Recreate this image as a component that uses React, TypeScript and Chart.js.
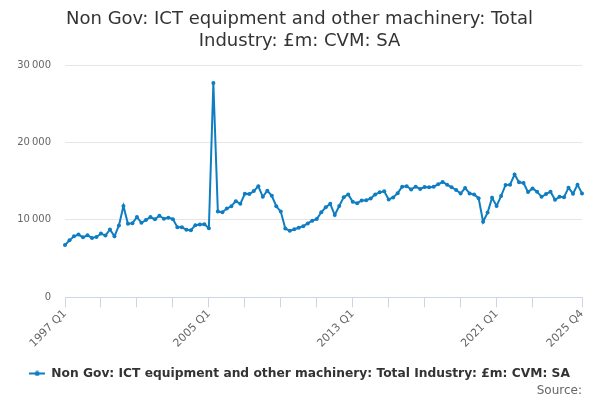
import React, { useEffect, useRef } from 'react';
import { Chart, registerables } from 'chart.js';

Chart.register(...registerables);

const FONT = '"DejaVu Sans", sans-serif';
const LINE_COLOR = '#0f7dc2';

const years = [
  1997, 1998, 1999, 2000, 2001, 2002, 2003, 2004, 2005, 2006, 2007, 2008, 2009, 2010, 2011,
  2012, 2013, 2014, 2015, 2016, 2017, 2018, 2019, 2020, 2021, 2022, 2023, 2024, 2025,
];
const quarters = ['Q1', 'Q2', 'Q3', 'Q4'];
const categories: string[] = years.flatMap((y) => quarters.map((q) => `${y} ${q}`));

const seriesName = 'Non Gov: ICT equipment and other machinery: Total Industry: £m: CVM: SA';
const values = [
  6760, 7360, 7880, 8100,
  7750, 8010, 7670, 7800,
  8230, 7970, 8760, 7880,
  9280, 11800, 9500, 9580,
  10370, 9630, 9980, 10370,
  10070, 10550, 10150, 10290,
  10100, 9060, 9060, 8720,
  8670, 9320, 9410, 9450,
  8930, 27670, 11070, 10980,
  11460, 11760, 12420, 12070,
  13370, 13330, 13730, 14340,
  12980, 13770, 13110, 11760,
  11070, 8890, 8590, 8800,
  8980, 9190, 9540, 9900,
  10110, 10980, 11630, 12070,
  10630, 11800, 12940, 13290,
  12330, 12160, 12510, 12550,
  12770, 13290, 13560, 13690,
  12640, 12900, 13450, 14290,
  14340, 13940, 14290, 13990,
  14250, 14200, 14290, 14600,
  14900, 14550, 14200, 13860,
  13420, 14120, 13420, 13290,
  12810, 9760, 10940, 12850,
  11810, 13070, 14510, 14550,
  15860, 14860, 14770, 13590,
  14070, 13640, 12980, 13330,
  13640, 12590, 12980, 12940,
  14160, 13380, 14550, 13420,
];

const xTickIndices = [0, 8, 16, 24, 32, 40, 48, 56, 64, 72, 80, 88, 96, 104, 115];
const xLabelIndices = [0, 32, 64, 96, 115];
const yTicks = [0, 10000, 20000, 30000];

function fmt(v: number): string {
  return String(Math.round(v)).replace(/\B(?=(\d{3})+(?!\d))/g, '\u2009');
}

function makeMarker(): HTMLCanvasElement {
  const c = document.createElement('canvas');
  c.width = 16;
  c.height = 6;
  const ctx = c.getContext('2d')!;
  ctx.strokeStyle = LINE_COLOR;
  ctx.lineWidth = 2;
  ctx.beginPath();
  ctx.moveTo(0, 3);
  ctx.lineTo(16, 3);
  ctx.stroke();
  ctx.fillStyle = LINE_COLOR;
  ctx.beginPath();
  ctx.arc(8, 3, 2.5, 0, Math.PI * 2);
  ctx.fill();
  return c;
}

export default function App() {
  const ref = useRef<HTMLCanvasElement | null>(null);

  useEffect(() => {
    if (!ref.current) return;
    const marker = makeMarker();
    const chart = new Chart(ref.current, {
      type: 'line',
      data: {
        labels: categories,
        datasets: [
          {
            label: seriesName,
            data: values,
            borderColor: LINE_COLOR,
            backgroundColor: LINE_COLOR,
            borderWidth: 2,
            pointRadius: 2,
            pointBorderWidth: 0,
            pointBackgroundColor: LINE_COLOR,
            tension: 0,
          },
        ],
      },
      options: {
        animation: false,
        responsive: true,
        maintainAspectRatio: false,
        layout: { padding: { left: 17, right: 18, top: 0, bottom: 0 } },
        plugins: {
          title: {
            display: true,
            text: ['Non Gov: ICT equipment and other machinery: Total', 'Industry: £m: CVM: SA'],
            color: '#333333',
            font: { family: FONT, size: 18, weight: 'normal', lineHeight: 1.25 },
            padding: { top: 8, bottom: 12 },
          },
          subtitle: {
            display: true,
            text: 'Source:',
            position: 'bottom',
            align: 'end',
            color: '#666666',
            font: { family: FONT, size: 12, weight: 'normal' },
            padding: { top: -6, bottom: 2 },
          },
          legend: {
            display: true,
            position: 'bottom',
            labels: {
              color: '#333333',
              font: { family: FONT, size: 12.25, weight: 'bold' },
              usePointStyle: true,
              pointStyleWidth: 16,
              boxHeight: 6,
              padding: 2,
              generateLabels: (c: any) => {
                const items = Chart.defaults.plugins.legend.labels.generateLabels(c);
                return items.map((it: any) => ({ ...it, pointStyle: marker }));
              },
            },
          },
          tooltip: { enabled: false },
        },
        scales: {
          x: {
            type: 'category',
            offset: false,
            grid: {
              display: true,
              drawOnChartArea: false,
              drawTicks: true,
              tickLength: 10,
              color: '#ccd6eb',
            },
            border: { display: true, color: '#ccd6eb', width: 1 },
            ticks: {
              autoSkip: false,
              maxRotation: 45,
              minRotation: 45,
              padding: 0,
              color: '#666666',
              font: { family: FONT, size: 11 },
              callback: (v: any) => (xLabelIndices.includes(Number(v)) ? categories[Number(v)] : ''),
            },
            afterBuildTicks: (s: any) => {
              s.ticks = xTickIndices.map((v) => ({ value: v }));
            },
            afterFit: (s: any) => {
              s.height = 68;
            },
          },
          y: {
            min: 0,
            max: 30000,
            grid: { color: '#e6e6e6', drawTicks: false },
            border: { display: false },
            ticks: {
              padding: 14,
              color: '#666666',
              font: { family: FONT, size: 10 },
              callback: (v: any) => fmt(Number(v)),
            },
            afterBuildTicks: (s: any) => {
              s.ticks = yTicks.map((v) => ({ value: v }));
            },
            afterFit: (s: any) => {
              s.width = 48;
            },
          },
        },
      },
    });
    return () => chart.destroy();
  }, []);

  return (
    <div style={{ position: 'fixed', left: 0, top: 0, width: 600, height: 400, background: '#fff' }}>
      <canvas ref={ref} />
    </div>
  );
}
